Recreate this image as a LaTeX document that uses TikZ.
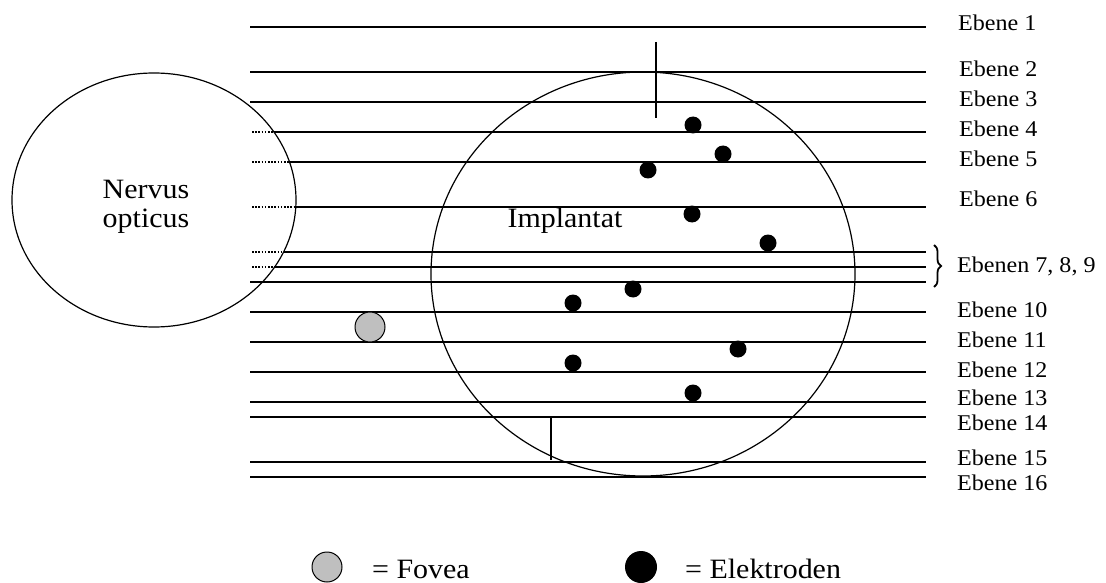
\documentclass[tikz,border=0pt]{standalone}
\usepackage{fontspec}
\setmainfont[FakeStretch=1.07]{Liberation Serif}
\usetikzlibrary{decorations.pathreplacing}
\begin{document}
\begin{tikzpicture}[x=1pt,y=-1pt,
  hline/.style={line width=1.5pt},
  dotline/.style={line width=1.6pt, dash pattern=on 1.6pt off 1.6pt},
  outline/.style={line width=1.2pt},
  lab/.style={anchor=base west, inner sep=0pt, font=\fontsize{22.5}{26}\selectfont},
  big/.style={anchor=base, inner sep=0pt, font=\fontsize{28}{30}\selectfont},
  electrode/.style={circle, fill=black, minimum size=17pt, inner sep=0pt},
  fovea/.style={circle, draw=black, line width=1pt, fill=black!25, minimum size=30pt, inner sep=0pt},
]
\useasboundingbox (0,0) rectangle (1106,583);
% planes
\foreach \y in {27,72,102,282,312,342,372,402,417,462,477}
  \draw[hline] (250,\y) -- (926,\y);
\foreach \y in {132,162,207,252,267} {
  \pgfmathsetmacro\xc{154+142*sqrt(1-((\y-200)/127)^2)}
  \draw[dotline] (252,\y) -- (\xc,\y);
  \draw[hline] (\xc,\y) -- (926,\y);
}
% nervus opticus
\draw[outline] (154,200) ellipse [x radius=142pt, y radius=127pt];
\node[big] (nervus) at (146,198) {Nervus};
\node[big] (opticus) at (146,227) {opticus};
% implant
\draw[outline] (643,274) ellipse [x radius=212pt, y radius=202pt];
\node[big] (implantat) at (565,227) {Implantat};
\draw[line width=1.3pt] (656,42) -- (656,118);
\draw[line width=1.3pt] (551,417) -- (551,460);
% electrodes
\foreach \p [count=\i] in {(693,125),(723,154),(648,170),(692,214),(768,243),(633,289),(573,303),(738,349),(573,363),(693,393)}
  \node[electrode] (e\i) at \p {};
% fovea
\node[fovea] (fov) at (370,327) {};
% brace
\draw[decorate, decoration={brace, amplitude=7pt}, line width=1.8pt] (934,245) -- (934,287);
% labels
\node[lab] (l1) at (958,31) {Ebene 1};
\node[lab] (l2) at (959,77) {Ebene 2};
\node[lab] (l3) at (959,107) {Ebene 3};
\node[lab] (l4) at (959,137) {Ebene 4};
\node[lab] (l5) at (959,167) {Ebene 5};
\node[lab] (l6) at (959,206) {Ebene 6};
\node[lab] (l7) at (957,272) {Ebenen 7, 8, 9};
\node[lab] (l10) at (957,317) {Ebene 10};
\node[lab] (l11) at (957,347) {Ebene 11};
\node[lab] (l12) at (957,377) {Ebene 12};
\node[lab] (l13) at (957,405) {Ebene 13};
\node[lab] (l14) at (957,430) {Ebene 14};
\node[lab] (l15) at (957,465) {Ebene 15};
\node[lab] (l16) at (957,490) {Ebene 16};
% legend
\node[fovea] (legf) at (327,567) {};
\node[big, anchor=base west] (legft) at (372,578) {= Fovea};
\node[electrode, minimum size=32pt] (lege) at (641,567) {};
\node[big, anchor=base west] (leget) at (685,578) {= Elektroden};
\end{tikzpicture}
\end{document}
